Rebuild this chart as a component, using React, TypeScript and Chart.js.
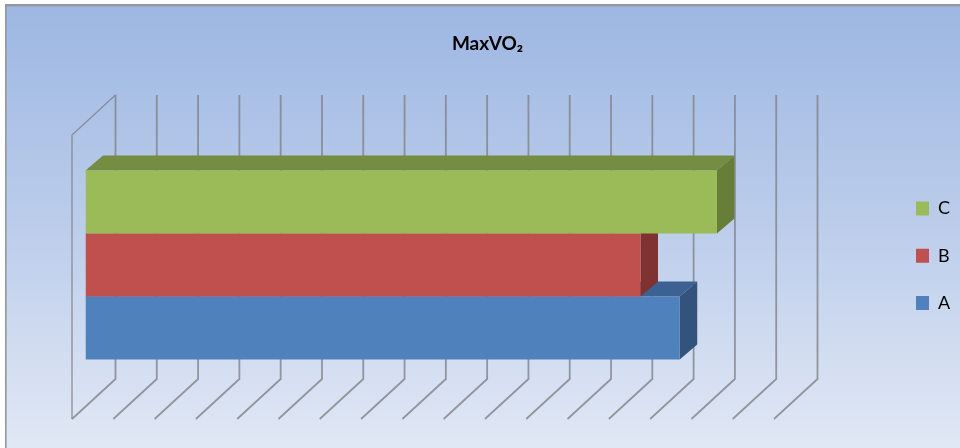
import React, { useEffect, useRef } from "react";
import { Chart, registerables } from "chart.js";

Chart.register(...registerables);

const categories = ["MaxVO2"];
const seriesNames = ["C", "B", "A"];
const seriesC = [15.29];
const seriesB = [13.44];
const seriesA = [14.39];
const axisMax = 17;
const faceColors = ["#9BBB59", "#C0504D", "#4F81BD"];
const topColors = ["#748D42", "#8E3B39", "#3B6291"];
const sideColors = ["#667E36", "#7F322F", "#31537C"];
const titleText = "MaxVO₂";

const BAR_DX = 17.5;
const BAR_DY = -15;
const BACK_DX = 30;
const BACK_DY = -28;
const FRONT_DX = -13.5;
const FRONT_DY = 12;
const GRID = "rgba(128,130,136,0.8)";

const scene = {
  id: "scene",
  afterLayout(chart: any) {
    const title = chart.titleBlock;
    if (title) {
      title.left = 387.5;
      title.right = 587.5;
    }
    const legend = chart.legend;
    if (legend) {
      const pad = legend.options.labels.padding;
      legend.left = 916 - pad;
      legend.top = 199.5 - pad;
      legend.right = chart.width;
      legend.bottom = chart.height;
    }
  },
  beforeDraw(chart: any) {
    const { ctx, width, height } = chart;
    ctx.save();
    ctx.fillStyle = "#FFFFFF";
    ctx.fillRect(0, 0, width, height);
    const g = ctx.createLinearGradient(0, 5, 0, height);
    g.addColorStop(0, "#9DB7E2");
    g.addColorStop(0.5, "#BCCDEB");
    g.addColorStop(1, "#E1E8F5");
    ctx.fillStyle = g;
    ctx.fillRect(5, 5, width - 5, height - 5);
    ctx.fillStyle = "#94979C";
    ctx.fillRect(5, 4, width - 5, 2.5);
    ctx.fillRect(5, 4, 1.6, height - 4);
    ctx.restore();
  },
  beforeDatasetsDraw(chart: any) {
    const { ctx, chartArea, scales } = chart;
    const xs = scales.x;
    const top = chartArea.top;
    const bottom = chartArea.bottom;
    ctx.save();
    ctx.strokeStyle = GRID;
    ctx.lineWidth = 1.8;
    xs.ticks.forEach((t: any) => {
      const x = xs.getPixelForValue(t.value);
      ctx.beginPath();
      ctx.moveTo(x + BACK_DX, top + BACK_DY);
      ctx.lineTo(x + BACK_DX, bottom + BACK_DY);
      ctx.lineTo(x + FRONT_DX, bottom + FRONT_DY);
      ctx.stroke();
    });
    const x0 = xs.getPixelForValue(0);
    ctx.lineWidth = 1.4;
    ctx.beginPath();
    ctx.moveTo(x0 + BACK_DX, top + BACK_DY);
    ctx.lineTo(x0 + FRONT_DX, top + FRONT_DY);
    ctx.lineTo(x0 + FRONT_DX, bottom + FRONT_DY);
    ctx.stroke();

    // Back to front: A (bottom) first, C (top) last.
    [2, 1, 0].forEach((i: number) => {
      const bar = chart.getDatasetMeta(i).data[0];
      const { x, y, base, height } = bar.getProps(["x", "y", "base", "height"], true);
      const t = y - height / 2;
      const b = y + height / 2;
      ctx.fillStyle = topColors[i];
      ctx.beginPath();
      ctx.moveTo(base, t);
      ctx.lineTo(x, t);
      ctx.lineTo(x + BAR_DX, t + BAR_DY);
      ctx.lineTo(base + BAR_DX, t + BAR_DY);
      ctx.closePath();
      ctx.fill();
      ctx.fillStyle = sideColors[i];
      ctx.beginPath();
      ctx.moveTo(x, t);
      ctx.lineTo(x + BAR_DX, t + BAR_DY);
      ctx.lineTo(x + BAR_DX, b + BAR_DY);
      ctx.lineTo(x, b);
      ctx.closePath();
      ctx.fill();
    });
    ctx.restore();
  },
};

export default function App() {
  const ref = useRef<HTMLCanvasElement>(null);
  useEffect(() => {
    if (!ref.current) return;
    const chart = new Chart(ref.current, {
      type: "bar",
      data: {
        labels: categories,
        datasets: [seriesC, seriesB, seriesA].map((data, i) => ({
          label: seriesNames[i],
          data,
          backgroundColor: faceColors[i],
          borderWidth: 0,
          categoryPercentage: 189 / 284,
          barPercentage: 1,
        })),
      },
      options: {
        indexAxis: "y",
        animation: false,
        responsive: false,
        layout: { padding: { left: 85.5, right: 171.5, top: 30, bottom: 41 } },
        scales: {
          x: {
            display: false,
            min: 0,
            max: axisMax,
            ticks: { stepSize: 1 },
          },
          y: { display: false },
        },
        plugins: {
          tooltip: { enabled: false },
          title: {
            display: true,
            text: titleText,
            color: "#000000",
            font: { family: "Lato", size: 19, weight: "bold", lineHeight: 1.2 },
            padding: { top: 2, bottom: 68.2 },
          },
          legend: {
            position: "right",
            align: "start",
            maxWidth: 1,
            labels: {
              boxWidth: 13,
              boxHeight: 14,
              padding: 29.3,
              color: "#000000",
              font: { family: "Lato", size: 18 },
            },
          },
        },
      },
      plugins: [scene],
    } as any);
    return () => chart.destroy();
  }, []);
  return (
    <div style={{ position: "fixed", left: 0, top: 0, width: 960, height: 448 }}>
      <canvas ref={ref} width={960} height={448} style={{ display: "block" }} />
    </div>
  );
}
